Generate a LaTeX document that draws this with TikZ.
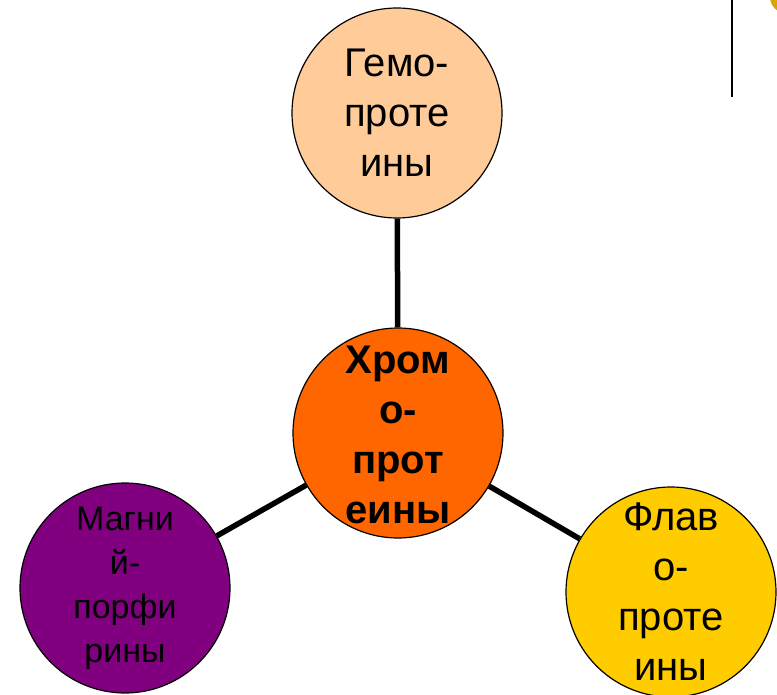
\documentclass[tikz,border=0pt]{standalone}
\usepackage{fontspec}
\setmainfont{Liberation Sans}
\definecolor{peach}{HTML}{FFCC99}
\definecolor{orng}{HTML}{FF6600}
\definecolor{purp}{HTML}{800080}
\definecolor{gold}{HTML}{FFCC00}
\definecolor{darkgold}{HTML}{D9A300}
\tikzset{
  ball/.style={circle, draw=black, line width=1.2pt, minimum size=210pt, inner sep=0pt},
  link/.style={line width=5.5pt, black},
  bigtxt/.style={align=center, inner sep=0pt, font=\fontsize{40}{50}\selectfont},
  smalltxt/.style={align=center, inner sep=0pt, font=\fontsize{34}{44}\selectfont},
  boldtxt/.style={align=center, inner sep=0pt, font=\fontsize{40}{50}\selectfont\bfseries}
}
\begin{document}
\begin{tikzpicture}[x=1pt,y=-1pt]
\useasboundingbox (0,0) rectangle (777,695);
% top-right fragments
\fill[darkgold] (786,-3) circle (16);
\coordinate (vt) at (732,0);
\coordinate (vb) at (732,97);
\draw[line width=2.5pt] (vt) -- (vb);
% circles
\node[ball, fill=peach] (heme) at (397,113) {};
\node[ball, fill=orng] (chrom) at (398,433) {};
\node[ball, fill=purp] (magn) at (125,588) {};
\node[ball, fill=gold] (flav) at (671,592) {};
% connectors
\draw[link] (heme) -- (chrom);
\draw[link] (chrom) -- (magn);
\draw[link] (chrom) -- (flav);
% texts
\node[bigtxt] (hemet) at (heme) {Гемо-\\проте\\ины};
\node[boldtxt] (chromt) at ([yshift=-2pt]chrom.center) {Хром\\о-\\прот\\еины};
\node[smalltxt] (magnt) at (magn) {Магни\\й-\\порфи\\рины};
\node[bigtxt] (flavt) at (flav) {Флав\\о-\\проте\\ины};
\end{tikzpicture}
\end{document}
